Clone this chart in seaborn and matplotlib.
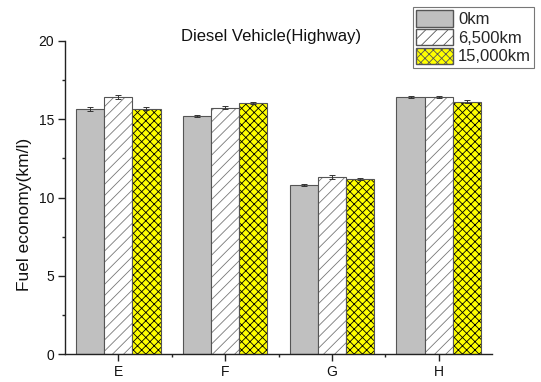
import numpy as np
import pandas as pd
import matplotlib
matplotlib.use("Agg")
import matplotlib.pyplot as plt
import seaborn as sns

vehicles = ["E", "F", "G", "H"]
mileages = ["0km", "6,500km", "15,000km"]
economy_0km = [15.65, 15.20, 10.80, 16.42]
economy_6500km = [16.42, 15.75, 11.33, 16.42]
economy_15000km = [15.68, 16.05, 11.18, 16.12]
err_0km = [0.12, 0.08, 0.08, 0.05]
err_6500km = [0.14, 0.10, 0.12, 0.06]
err_15000km = [0.10, 0.06, 0.08, 0.08]

sns.set_theme(style="white")
plt.rcParams["font.family"] = ["Liberation Sans", "DejaVu Sans"]
plt.rcParams["hatch.linewidth"] = 0.6

df = pd.DataFrame({
    "vehicle": vehicles * 3,
    "mileage": np.repeat(mileages, len(vehicles)),
    "economy": economy_0km + economy_6500km + economy_15000km,
})
errs = [err_0km, err_6500km, err_15000km]

fills = ["#C0C0C0", "#FFFFFF", "#FFFF00"]
hatches = [None, "///", "xxxx"]
hatch_colors = ["#555555", "#777777", "#000000"]

fig = plt.figure(figsize=(5.41, 3.82), dpi=100)
ax = fig.add_axes([65 / 541, 1 - 354 / 382, (492 - 65) / 541, (354 - 41) / 382])

sns.barplot(data=df, x="vehicle", y="economy", hue="mileage",
            hue_order=mileages, palette=fills, width=0.79,
            errorbar=None, edgecolor="#555555", linewidth=0.8,
            ax=ax, legend=False)

bar_groups = list(ax.containers)
for i, cont in enumerate(bar_groups):
    for j, bar in enumerate(cont.patches):
        bar.set_facecolor(fills[i])
        if hatches[i]:
            bar.set_hatch(hatches[i])
            bar._hatch_color = matplotlib.colors.to_rgba(hatch_colors[i])
        cx = bar.get_x() + bar.get_width() / 2
        ax.errorbar(cx, bar.get_height(), yerr=errs[i][j], fmt="none",
                    ecolor="#333333", elinewidth=0.7, capsize=2.5,
                    capthick=0.7, zorder=5)

ax.set_xlim(-0.5, 3.5)
ax.set_ylim(0, 20)
ax.set_yticks([0, 5, 10, 15, 20])
ax.set_yticks([2.5, 7.5, 12.5, 17.5], minor=True)
ax.set_xticks([0.5, 1.5, 2.5], minor=True)
ax.set_xlabel("")
ax.set_ylabel("Fuel economy(km/l)", fontsize=12.5, color="#111111")
ax.yaxis.label.set_va("center")
ax.yaxis.set_label_coords((25 - 65) / 427, (354 - 214.5) / 313)
for s in ["top", "right"]:
    ax.spines[s].set_visible(False)
for s in ["left", "bottom"]:
    ax.spines[s].set_color("#222222")
    ax.spines[s].set_linewidth(1.0)
ax.tick_params(axis="both", which="major", direction="out", length=5,
               width=1.0, color="#222222", labelsize=10, labelcolor="#111111",
               left=True, bottom=True, pad=3)
ax.tick_params(axis="both", which="minor", direction="out", length=2.5,
               width=1.0, color="#222222", left=True, bottom=True)

fig.text(271.5 / 541, 1 - 36 / 382, "Diesel Vehicle(Highway)", ha="center",
         va="center", fontsize=12, color="#111111")

handles = []
for i, m in enumerate(mileages):
    p = matplotlib.patches.Patch(facecolor=fills[i], edgecolor="#555555",
                                 hatch=hatches[i], label=m)
    handles.append(p)
leg = fig.legend(handles=handles, loc="upper left",
                 bbox_to_anchor=(413 / 541, 1 - 7 / 382), fontsize=12,
                 frameon=True, fancybox=False, edgecolor="#555555",
                 handlelength=2.2, handleheight=1.15, handletextpad=0.3,
                 borderpad=0.2, labelspacing=0.1, borderaxespad=0)
leg.get_frame().set_linewidth(0.8)

fig.savefig("out.png", dpi=100)
